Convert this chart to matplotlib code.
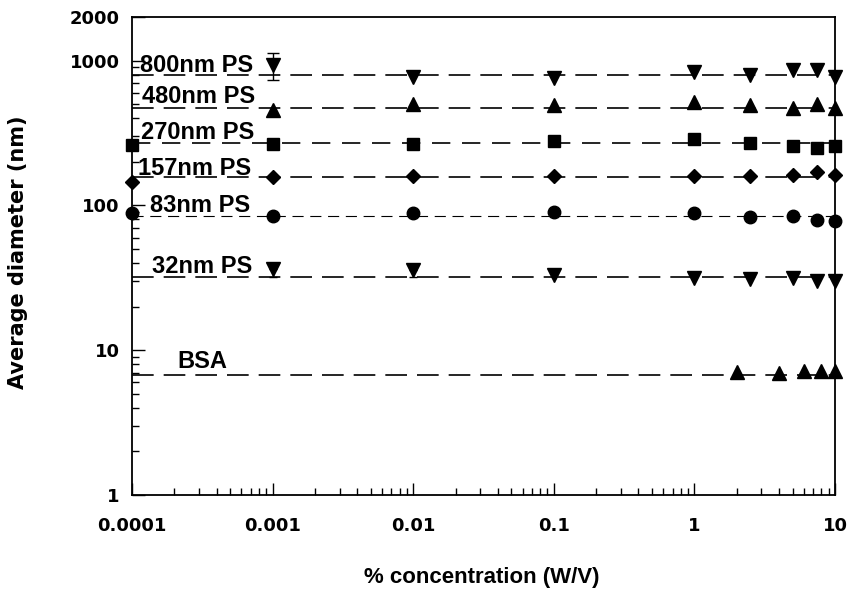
import numpy as np
import matplotlib
matplotlib.use('Agg')
import matplotlib.pyplot as plt
from matplotlib.ticker import LogLocator, NullFormatter, FixedLocator, FixedFormatter

# concentration (% W/V)
conc_ps = [0.001, 0.01, 0.1, 1, 2.5, 5, 7.5, 10]
conc_ps0 = [0.0001, 0.001, 0.01, 0.1, 1, 2.5, 5, 7.5, 10]
conc_bsa = [2, 4, 6, 8, 10]

# measured diameters (nm)
d800 = [933, 767, 759, 838, 794, 861, 861, 774]
d480 = [456, 502, 494, 515, 494, 469, 502, 470]
d270 = [261, 265, 264, 279, 286, 268, 258, 250, 257]
d157 = [146, 158, 160, 160, 160, 160, 161, 171, 162]
d83 = [88, 84.5, 89, 90.5, 88, 82.8, 84.5, 79.3, 78.4]
d32 = [36.4, 36.0, 32.9, 31.4, 30.9, 31.4, 30.2, 30.2]
dbsa = [7.04, 6.92, 7.16, 7.24, 7.24]

# nominal sizes (dashed reference lines)
nominal = {'800': 800, '480': 470, '270': 268, '157': 157, '83': 84, '32': 32, 'BSA': 6.7}

labels = ['800nm PS', '480nm PS', '270nm PS', '157nm PS', '83nm PS', '32nm PS', 'BSA']

fig = plt.figure(figsize=(8.5, 5.9), dpi=100)
ax = fig.add_axes([132/850, 1-495/590, 703/850, 478/590])
ax.set_xscale('log')
ax.set_yscale('log')
ax.set_xlim(0.0001, 10)
ax.set_ylim(1, 2000)

xr = [0.0001, 10]
ln = dict(color='black', lw=1.2, zorder=1)
ax.plot(xr, [nominal['800']] * 2, dashes=(13, 6), **ln)
ax.plot(xr, [nominal['480']] * 2, dashes=(13, 6), **ln)
ax.plot(xr, [nominal['270']] * 2, dashes=(11, 7), **ln)
ax.plot(xr, [nominal['157']] * 2, dashes=(13, 6), **ln)
ax.plot(xr, [nominal['83']] * 2, color='black', lw=0.8, dashes=(10, 6), zorder=1)
ax.plot(xr, [nominal['32']] * 2, dashes=(13, 6), **ln)
ax.plot(xr, [nominal['BSA']] * 2, dashes=(13, 6), **ln)

mk = dict(ls='none', color='black', clip_on=False, zorder=3)
ax.plot(conc_ps, d800, marker='v', ms=10, **mk)
ax.plot(conc_ps, d480, marker='^', ms=10, **mk)
ax.plot(conc_ps0, d270, marker='s', ms=9, **mk)
ax.plot(conc_ps0, d157, marker='D', ms=7, **mk)
ax.plot(conc_ps0, d83, marker='o', ms=9, **mk)
ax.plot(conc_ps, d32, marker='v', ms=10, **mk)
ax.plot(conc_bsa, dbsa, marker='^', ms=10, **mk)

# error bars
ax.errorbar([conc_ps[0]], [d800[0]], yerr=[[200], [195]], fmt='none',
            ecolor='black', elinewidth=1, capsize=4, zorder=2)
ax.errorbar(conc_ps[:2], d32[:2], yerr=[[4.5, 4.2], [0, 0]], fmt='none',
            ecolor='black', elinewidth=1, capsize=3, zorder=2)

# series labels
lab_pos = [(0.012, 0.885), (0.014, 0.820), (0.013, 0.745), (0.009, 0.669),
           (0.026, 0.592), (0.028, 0.464), (0.065, 0.266)]
for (tx, ty), s in zip(lab_pos, labels):
    ax.text(tx, ty, s, transform=ax.transAxes, fontsize=17, fontweight='bold',
            family='Liberation Sans', va='baseline', ha='left', zorder=4)

# ticks
ax.xaxis.set_major_locator(FixedLocator([0.0001, 0.001, 0.01, 0.1, 1, 10]))
ax.xaxis.set_major_formatter(FixedFormatter(['0.0001', '0.001', '0.01', '0.1', '1', '10']))
ax.xaxis.set_minor_locator(LogLocator(base=10, subs=np.arange(2, 10)))
ax.xaxis.set_minor_formatter(NullFormatter())
ax.yaxis.set_major_locator(FixedLocator([1, 10, 100, 1000, 2000]))
ax.yaxis.set_major_formatter(FixedFormatter(['1', '10', '100', '1000', '2000']))
ax.yaxis.set_minor_locator(LogLocator(base=10, subs=np.arange(2, 10)))
ax.yaxis.set_minor_formatter(NullFormatter())

ax.tick_params(which='both', direction='in', top=False, right=False, width=1)
ax.tick_params(which='major', length=9)
ax.tick_params(axis='x', which='major', pad=16)
ax.tick_params(axis='y', which='major', pad=9)
ax.tick_params(which='minor', length=5)
for t in ax.get_xticklabels() + ax.get_yticklabels():
    t.set_fontfamily('DejaVu Sans')
    t.set_fontweight('bold')
    t.set_fontsize(13)

for sp in ax.spines.values():
    sp.set_linewidth(1.3)

fig.text(482/850, 1-578/590, '% concentration (W/V)', ha='center', va='center',
         fontsize=16, fontweight='bold', family='Liberation Sans')
fig.text(18/850, 1-252/590, 'Average diameter (nm)', ha='center', va='center',
         rotation=90, fontsize=15, fontweight='bold', family='DejaVu Sans')

fig.savefig('out.png', dpi=100)
